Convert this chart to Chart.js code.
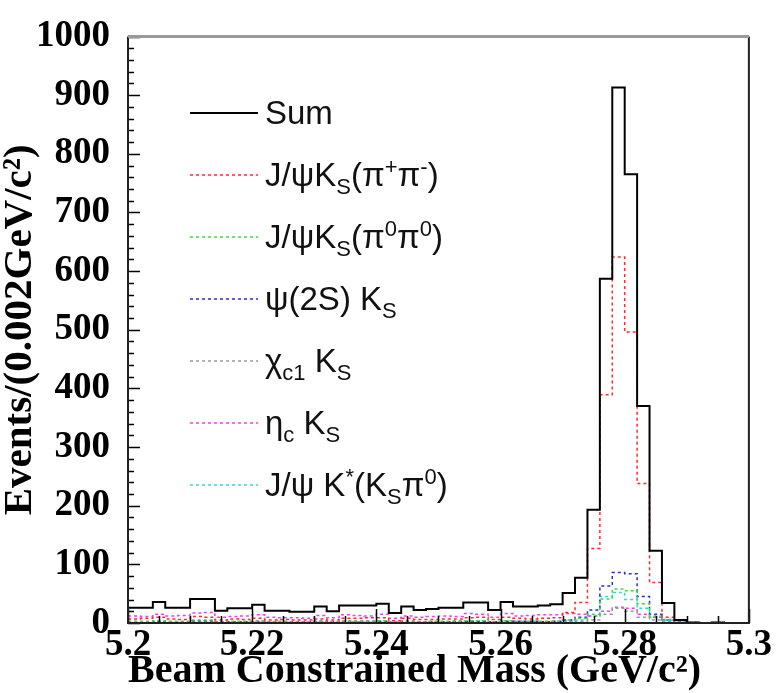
<!DOCTYPE html>
<html>
<head>
<meta charset="utf-8">
<script src="https://cdn.jsdelivr.net/npm/chart.js@4"></script>
<style>
  body { margin: 0; background: #fff; }
  #wrap { position: relative; width: 776px; height: 693px; }
  #legend { position: absolute; left: 190px; top: 82px; font-family: "Liberation Sans", Arial, sans-serif; font-size: 33px; color: #111; }
  #legend .row { height: 62px; display: flex; align-items: center; white-space: nowrap; }
  #legend svg { margin-right: 7px; }
  #legend sub, #legend sup { font-size: 22px; line-height: 0; }
</style>
</head>
<body>
<div id="wrap">
  <canvas id="chart" width="776" height="693"></canvas>
  <div id="legend"></div>
</div>
<script>
// Bin layout: 50 bins of 0.002 GeV/c^2 from 5.2 to 5.3
const xMin = 5.2;
const binWidth = 0.002;

// Events per bin
const sumCounts   = [26,26,36,26,26,41,41,21,25,25,31,21,21,19,19,28,20,30,30,30,33,17,28,22,24,26,26,35,35,22,36,28,28,30,32,51,77,193,587,913,765,370,123,34,5,1,0,1,0,0];
const jpsiKsPipi  = [7,8,10,7,6,11,10,5,7,6,8,5,6,5,5,7,5,8,8,9,9,4,8,6,6,7,7,9,10,6,10,8,7,8,9,18,35,127,389,624,496,238,69,10,1,0,0,0,0,0];
const jpsiKsPi0   = [3,3,4,3,3,5,5,2,3,3,3,2,3,2,2,3,2,3,3,3,4,2,3,2,3,3,3,4,4,2,4,3,3,3,3,5,8,15,41,58,55,33,12,5,1,0,0,1,0,0];
const psi2sKs     = [2,2,3,2,2,4,4,2,2,2,3,2,1,2,2,3,2,3,3,3,3,1,3,2,2,2,3,3,3,2,3,3,3,2,3,5,10,22,63,86,84,45,15,5,1,1,0,0,0,0];
const chic1Ks     = [1,1,1,1,1,1,1,0,1,1,1,1,1,0,1,1,1,1,1,1,1,1,1,1,1,1,1,1,1,1,1,1,1,1,1,2,3,5,15,25,20,10,5,2,0,0,0,0,0,0];
const etacKs      = [12,11,15,12,13,17,18,10,11,12,14,10,9,9,8,13,9,14,13,12,15,8,12,10,11,12,11,16,15,10,16,12,13,14,14,16,15,12,20,27,25,15,10,6,2,0,0,0,0,0];
const jpsiKstar   = [1,1,2,1,1,2,2,1,1,1,2,1,1,1,1,1,1,1,2,1,1,1,1,1,1,1,1,2,2,1,2,1,1,2,2,3,5,12,45,52,40,25,10,4,0,0,0,0,0,0];

const seriesLabels = [
  'Sum',
  'J/ψK<sub>S</sub>(π<sup>+</sup>π<sup>-</sup>)',
  'J/ψK<sub>S</sub>(π<sup>0</sup>π<sup>0</sup>)',
  'ψ(2S) K<sub>S</sub>',
  'χ<sub>c1</sub> K<sub>S</sub>',
  'η<sub>c</sub> K<sub>S</sub>',
  'J/ψ K<sup>*</sup>(K<sub>S</sub>π<sup>0</sup>)'
];
const seriesData = [sumCounts, jpsiKsPipi, jpsiKsPi0, psi2sKs, chic1Ks, etacKs, jpsiKstar];
const seriesColors = ['#000000', '#ff2a2a', '#3fd84a', '#2b2bd0', '#9a9a9a', '#ee40ee', '#30d8dc'];

// turn bin counts into step points at the bin edges
function toSteps(counts) {
  const pts = counts.map((c, i) => ({ x: xMin + i * binWidth, y: c }));
  pts.push({ x: xMin + counts.length * binWidth, y: counts[counts.length - 1] });
  return pts;
}

const datasets = seriesData.map((d, i) => ({
  label: seriesLabels[i].replace(/<[^>]+>/g, ''),
  data: toSteps(d),
  borderColor: seriesColors[i],
  borderWidth: i === 0 ? 2 : 1.5,
  borderDash: i === 0 ? [] : [3, 3],
  stepped: 'before',
  pointRadius: 0,
  fill: false
}));

// ROOT-style inner ticks plus frame
const frameTicks = {
  id: 'frameTicks',
  afterDraw(chart) {
    const { ctx, chartArea: { left, right, top, bottom }, scales: { x, y } } = chart;
    ctx.save();
    ctx.strokeStyle = '#000';
    ctx.lineWidth = 1.5;
    ctx.beginPath();
    for (let v = 0; v <= 1000; v += 20) {
      const py = Math.round(y.getPixelForValue(v)) + 0.5;
      const len = v % 100 === 0 ? 12 : 6;
      ctx.moveTo(left, py);
      ctx.lineTo(left + len, py);
    }
    for (let i = 0; i <= 20; i++) {
      const px = Math.round(x.getPixelForValue(xMin + i * 0.005)) + 0.5;
      const len = i % 4 === 0 ? 14 : 7;
      ctx.moveTo(px, bottom);
      ctx.lineTo(px, bottom - len);
    }
    ctx.stroke();

    ctx.lineWidth = 2;
    ctx.strokeStyle = '#222';
    ctx.beginPath();
    ctx.moveTo(left, top);
    ctx.lineTo(left, bottom);
    ctx.lineTo(right, bottom);
    ctx.lineTo(right, top);
    ctx.stroke();
    ctx.strokeStyle = '#999';
    ctx.lineWidth = 3;
    ctx.beginPath();
    ctx.moveTo(left, top);
    ctx.lineTo(right, top);
    ctx.stroke();
    ctx.restore();
  }
};

const serif = "'Liberation Serif', 'Times New Roman', serif";

new Chart(document.getElementById('chart'), {
  type: 'line',
  data: { datasets: datasets },
  options: {
    responsive: false,
    animation: false,
    layout: { padding: { top: 22, right: 25, left: 0, bottom: 0 } },
    plugins: { legend: { display: false }, tooltip: { enabled: false } },
    scales: {
      x: {
        type: 'linear',
        min: 5.2,
        max: 5.3,
        grid: { display: false, drawTicks: false },
        border: { display: false },
        ticks: {
          stepSize: 0.02,
          padding: 4,
          color: '#000',
          font: { family: serif, size: 37, weight: 'bold', lineHeight: 1 },
          maxRotation: 0,
          autoSkip: false,
          callback: v => String(Number(v.toFixed(2)))
        },
        title: {
          display: true,
          align: 'start',
          text: 'Beam Constrained Mass (GeV/c²)',
          color: '#000',
          font: { family: serif, size: 40, weight: 'bold', lineHeight: 1 },
          padding: { top: 0, bottom: 1 }
        },
        afterFit: s => { s.height = 70; }
      },
      y: {
        min: 0,
        max: 1000,
        grid: { display: false, drawTicks: false },
        border: { display: false },
        ticks: {
          stepSize: 100,
          padding: 18,
          color: '#000',
          font: { family: serif, size: 37, weight: 'bold', lineHeight: 1 },
          callback: v => String(v)
        },
        title: {
          display: true,
          text: 'Events/(0.002GeV/c²)',
          color: '#000',
          font: { family: serif, size: 41, weight: 'bold', lineHeight: 1 },
          padding: { top: 0, bottom: 0 }
        },
        afterFit: s => { s.width = 128; }
      }
    }
  },
  plugins: [frameTicks]
});

// legend with sub/superscripts
const legendBox = document.getElementById('legend');
seriesLabels.forEach((lab, i) => {
  const row = document.createElement('div');
  row.className = 'row';
  const dash = i === 0 ? '' : ' stroke-dasharray="3 3"';
  row.innerHTML = '<svg width="68" height="4"><line x1="0" y1="2" x2="68" y2="2" stroke="' +
    seriesColors[i] + '" stroke-width="' + (i === 0 ? 2 : 1.5) + '"' + dash + '/></svg><span>' + lab + '</span>';
  legendBox.appendChild(row);
});
</script>
</body>
</html>
